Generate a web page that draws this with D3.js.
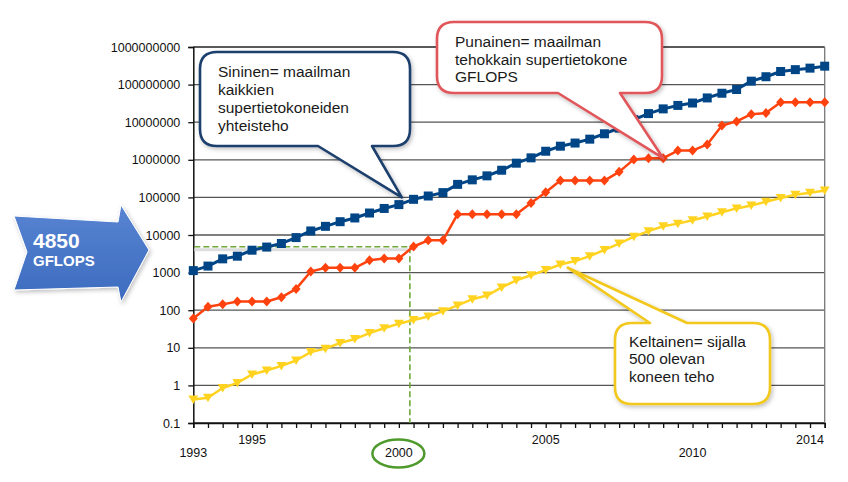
<!DOCTYPE html>
<html>
<head>
<meta charset="utf-8">
<script src="https://cdn.jsdelivr.net/npm/d3@7"></script>
<style>
  body { margin: 0; background: #fff; }
  svg { display: block; font-family: "Liberation Sans", Arial, sans-serif; }
</style>
</head>
<body>
<svg id="chart" width="848" height="482"></svg>
<script>
// TOP500 lists, June and November, 1993 - 2014 (GFLOPS)
var lists = ["1993/06","1993/11","1994/06","1994/11","1995/06","1995/11","1996/06","1996/11",
  "1997/06","1997/11","1998/06","1998/11","1999/06","1999/11","2000/06","2000/11",
  "2001/06","2001/11","2002/06","2002/11","2003/06","2003/11","2004/06","2004/11",
  "2005/06","2005/11","2006/06","2006/11","2007/06","2007/11","2008/06","2008/11",
  "2009/06","2009/11","2010/06","2010/11","2011/06","2011/11","2012/06","2012/11",
  "2013/06","2013/11","2014/06","2014/11"];

// blue: sum of all
var sumPerf = [1130,1490,2320,2730,3940,4780,5950,8540,12800,17000,22600,28400,
  38400,50800,64300,88900,108900,134000,222000,293000,374000,528000,813000,1127000,
  1690000,2300000,2790000,3540000,4920000,6970000,11700000,16950000,22600000,27950000,
  32400000,44200000,58900000,74200000,123400000,162000000,223000000,250000000,274000000,309000000];

// red: number one
var topPerf = [60,124,143,170,170,170,220,368,1068,1338,1338,1338,2121,2379,2379,4938,
  7226,7226,35860,35860,35860,35860,35860,70720,136800,280600,280600,280600,280600,478200,
  1026000,1105000,1105000,1759000,1759000,2566000,8162000,10510000,16320000,17590000,
  33860000,33860000,33860000,33860000];

// yellow: number 500
var lastPerf = [0.42,0.47,0.85,1.16,1.96,2.5,3.3,4.6,7.7,9.5,13.4,17.1,24.7,33.1,43.8,55.1,
  67.8,94.3,134,196,245,403,624,851,1166,1646,2026,2737,4005,5929,9000,12640,17090,20050,
  24670,31120,40190,50940,60820,76410,96620,117800,133700,153400];

var yTicks = [0.1,1,10,100,1000,10000,100000,1000000,10000000,100000000,1000000000];
var xTickLabels = ["1993","1995","2000","2005","2010","2014"];
var marked = 4850;

var svg = d3.select("#chart");
var defs = svg.append("defs");

var x = d3.scaleLinear().domain([0, lists.length - 1]).range([193.3, 824.7]);
var y = d3.scaleLog().domain([0.1, 1e9]).range([423, 47]);

// grid
svg.append("g").selectAll("line").data(yTicks).enter().append("line")
    .attr("x1", x(0)).attr("x2", x(lists.length - 1))
    .attr("y1", function(d){ return y(d); })
    .attr("y2", function(d){ return y(d); })
    .attr("stroke", function(d, i){ return i == 0 || i == yTicks.length - 1 ? "#222" : "#555"; })
    .attr("stroke-width", 1.3);

svg.append("line")
    .attr("x1", x(lists.length - 1)).attr("x2", x(lists.length - 1))
    .attr("y1", y(1e9)).attr("y2", y(0.1))
    .attr("stroke", "#777").attr("stroke-width", 1.3);

// y axis
var yAxis = d3.axisLeft(y).tickValues(yTicks).tickSize(5).tickPadding(8)
    .tickFormat(function(d){ return d < 1 ? "0.1" : d3.format("d")(d); });
var ya = svg.append("g").attr("transform", "translate(" + x(0) + ",0)").call(yAxis);
ya.select(".domain").attr("stroke", "#111").attr("stroke-width", 1.5);
ya.selectAll(".tick line").attr("stroke", "#111").attr("stroke-width", 1.3);
ya.selectAll("text").attr("font-size", "12.5px").attr("fill", "#111")
    .attr("font-family", "Liberation Sans, Arial, sans-serif");

// x axis
var xAxis = d3.axisBottom(x).tickValues(d3.range(lists.length)).tickSize(5).tickFormat("");
var xa = svg.append("g").attr("transform", "translate(0," + y(0.1) + ")").call(xAxis);
xa.select(".domain").attr("stroke", "#111").attr("stroke-width", 1.5);
xa.selectAll(".tick line").attr("stroke", "#111").attr("stroke-width", 1.3);

// year labels, on two staggered rows
svg.append("g").selectAll("text").data(xTickLabels).enter().append("text")
    .attr("x", function(d){ return x(lists.indexOf(d + "/06")); })
    .attr("y", function(d, i){ return i % 2 == 0 ? 457 : 444; })
    .attr("text-anchor", "middle")
    .attr("font-size", "12.5px").attr("fill", "#111")
    .text(function(d){ return d; });

// marked value, green dashes
var xi = 14.75;
svg.append("path")
    .attr("d", "M" + (x(0) + 1) + "," + (y(marked) + 3) + "H" + x(xi))
    .attr("stroke", "#ddd").attr("stroke-width", 3).attr("fill", "none");
svg.append("path")
    .attr("d", "M" + (x(0) + 1) + "," + y(marked) + "H" + x(xi) + "V" + y(0.1))
    .attr("stroke", "#6fa83a").attr("stroke-width", 1.6)
    .attr("stroke-dasharray", "6,3").attr("fill", "none");

// series
var series = [
  { values: sumPerf, color: "#004586", width: 3, shape: "square" },
  { values: topPerf, color: "#ff420e", width: 2.5, shape: "diamond" },
  { values: lastPerf, color: "#ffd320", width: 2.5, shape: "triangle" }
];

var line = d3.line()
    .x(function(d, i){ return x(i); })
    .y(function(d){ return y(d); });

series.forEach(function(s){
  var g = svg.append("g");
  g.append("path").datum(s.values)
      .attr("d", line).attr("fill", "none")
      .attr("stroke", s.color).attr("stroke-width", s.width)
      .attr("stroke-linejoin", "round");
  var sym;
  if (s.shape == "square") sym = "M-4.5,-4.5H4.5V4.5H-4.5Z";
  else if (s.shape == "diamond") sym = "M0,-5L4.5,0L0,5L-4.5,0Z";
  else sym = "M-5,-4L5,-4L0,4.5Z";
  g.selectAll("path.m").data(s.values).enter().append("path")
      .attr("class", "m")
      .attr("d", sym)
      .attr("transform", function(d, i){ return "translate(" + x(i) + "," + y(d) + ")"; })
      .attr("fill", s.color);
});

// green ellipse around 2000
svg.append("ellipse")
    .attr("cx", x(lists.indexOf("2000/06")) - 0.5).attr("cy", 453.5)
    .attr("rx", 26).attr("ry", 14)
    .attr("fill", "none").attr("stroke", "#4f9a2c").attr("stroke-width", 2.5);

// shadows for shapes
var sh = defs.append("filter").attr("id", "shadow")
    .attr("x", "-20%").attr("y", "-20%").attr("width", "140%").attr("height", "140%");
sh.append("feDropShadow").attr("dx", 1.5).attr("dy", 2).attr("stdDeviation", 2)
    .attr("flood-color", "#000").attr("flood-opacity", 0.25);

// blue arrow
var grad = defs.append("linearGradient").attr("id", "arrowGrad")
    .attr("x1", 0).attr("y1", 0).attr("x2", 0).attr("y2", 1);
grad.append("stop").attr("offset", "0%").attr("stop-color", "#5784d2");
grad.append("stop").attr("offset", "100%").attr("stop-color", "#3d6bbf");

var arrowPts = [[14,216],[118,222],[121,205],[149,250],[121,302],[118,287],[14,290],[27,252]];
svg.append("path")
    .attr("d", d3.line()(arrowPts) + "Z")
    .attr("fill", "url(#arrowGrad)")
    .attr("stroke", "#ffffff").attr("stroke-width", 1)
    .attr("filter", "url(#shadow)");
svg.append("text").attr("x", 33).attr("y", 248)
    .attr("font-size", "21px").attr("font-weight", "bold").attr("fill", "#fff")
    .text(d3.format("d")(marked));
svg.append("text").attr("x", 33).attr("y", 266)
    .attr("font-size", "15px").attr("font-weight", "bold").attr("fill", "#fff")
    .text("GFLOPS");

// callouts
function callout(box, tail, tip, stroke, lines, textX, textY, lineH, fromTop) {
  var x0 = box[0], y0 = box[1], x1 = box[2], y1 = box[3], r = 17;
  var p;
  if (!fromTop) {
    p = "M" + (x0 + r) + "," + y0 + "H" + (x1 - r) +
      "Q" + x1 + "," + y0 + " " + x1 + "," + (y0 + r) +
      "V" + (y1 - r) + "Q" + x1 + "," + y1 + " " + (x1 - r) + "," + y1 +
      "H" + tail[1] + "L" + tip[0] + "," + tip[1] + "L" + tail[0] + "," + y1 +
      "H" + (x0 + r) + "Q" + x0 + "," + y1 + " " + x0 + "," + (y1 - r) +
      "V" + (y0 + r) + "Q" + x0 + "," + y0 + " " + (x0 + r) + "," + y0 + "Z";
  } else {
    p = "M" + (x0 + r) + "," + y0 + "H" + tail[0] + "L" + tip[0] + "," + tip[1] +
      "L" + tail[1] + "," + y0 + "H" + (x1 - r) +
      "Q" + x1 + "," + y0 + " " + x1 + "," + (y0 + r) +
      "V" + (y1 - r) + "Q" + x1 + "," + y1 + " " + (x1 - r) + "," + y1 +
      "H" + (x0 + r) + "Q" + x0 + "," + y1 + " " + x0 + "," + (y1 - r) +
      "V" + (y0 + r) + "Q" + x0 + "," + y0 + " " + (x0 + r) + "," + y0 + "Z";
  }
  var g = svg.append("g");
  g.append("path").attr("d", p)
      .attr("fill", "#fff").attr("stroke", stroke).attr("stroke-width", 2.6)
      .attr("stroke-linejoin", "round")
      .attr("filter", "url(#shadow)");
  g.selectAll("text").data(lines).enter().append("text")
      .attr("x", textX)
      .attr("y", function(d, i){ return textY + i * lineH; })
      .attr("font-size", "15.5px").attr("fill", "#1a1a1a")
      .text(function(d){ return d; });
}

callout([200, 52, 410, 146], [318, 372], [x(14.2), y(1e5)], "#1f3f6d",
  ["Sininen= maailman", "kaikkien", "supertietokoneiden", "yhteisteho"], 218, 77, 18, false);

callout([437, 22, 662, 93], [558, 620], [x(32), y(topPerf[32])], "#e0575a",
  ["Punainen= maailman", "tehokkain supertietokone", "GFLOPS"], 455, 47, 17.5, false);

callout([615, 323, 770, 404], [650, 687], [x(25.5), y(1350)], "#f2c81e",
  ["Keltainen= sijalla", "500 olevan", "koneen teho"], 629, 347, 17.3, true);
</script>
</body>
</html>
